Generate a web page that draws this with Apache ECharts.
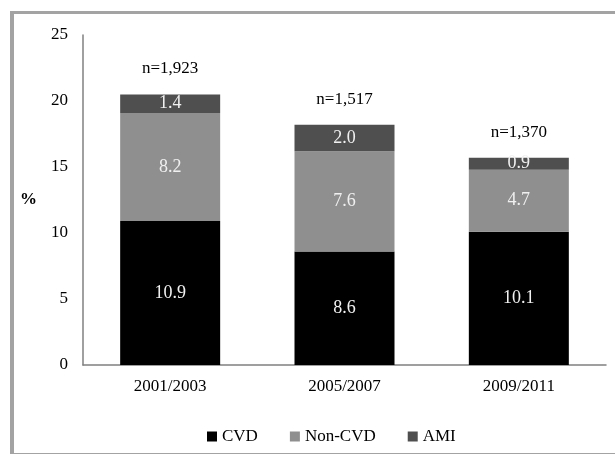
<!DOCTYPE html>
<html><head><meta charset="utf-8">
<script src="https://cdn.jsdelivr.net/npm/echarts@6/dist/echarts.min.js"></script>
<style>
html,body{margin:0;padding:0;background:#fff;}
#frame{position:absolute;left:10px;top:11px;width:620px;height:439px;border-left:4px solid #a3a3a3;border-top:3px solid #a3a3a3;border-bottom:2px solid #a3a3a3;}
#c{position:absolute;left:0;top:0;width:615px;height:454px;}
</style></head>
<body><div id="frame"></div><div id="c"></div>
<script>
const categories = ['2001/2003', '2005/2007', '2009/2011'];
const cvd = [10.9, 8.6, 10.1];
const nonCvd = [8.2, 7.6, 4.7];
const ami = [1.4, 2.0, 0.9];
const nLabels = ['n=1,923', 'n=1,517', 'n=1,370'];
const yTicks = [0, 5, 10, 15, 20, 25];

const font = 'Liberation Serif';
const chart = echarts.init(document.getElementById('c'));
const inLabel = {show: true, position: 'inside', color: '#f0f0f0', fontFamily: font, fontSize: 18,
  formatter: p => p.value.toFixed(1)};
chart.setOption({
  animation: false,
  textStyle: {fontFamily: font},
  grid: {left: 83, right: 9, top: 35, bottom: 89},
  legend: {
    data: ['CVD', 'Non-CVD', 'AMI'], top: 423, left: 202, icon: 'rect',
    itemWidth: 10, itemHeight: 10, itemGap: 32,
    textStyle: {fontFamily: font, fontSize: 17, color: '#000'}
  },
  xAxis: {type: 'category', data: categories,
    axisLine: {lineStyle: {color: '#808080', width: 1.5}}, axisTick: {show: false},
    axisLabel: {color: '#000', fontSize: 17, fontFamily: font, margin: 13}},
  yAxis: {type: 'value', min: yTicks[0], max: yTicks[yTicks.length - 1], interval: 5,
    name: '%', nameLocation: 'middle', nameRotate: 0, nameGap: 46,
    nameTextStyle: {fontFamily: font, fontSize: 17, fontWeight: 'bold', color: '#000', padding: [8, 0, 0, 0]},
    axisLine: {show: true, lineStyle: {color: '#808080', width: 1.5}}, axisTick: {show: false},
    splitLine: {show: false},
    axisLabel: {color: '#000', fontSize: 17, fontFamily: font, margin: 15}},
  series: [
    {name: 'CVD', type: 'bar', stack: 's', data: cvd, barWidth: 100, itemStyle: {color: '#000000'}, label: inLabel},
    {name: 'Non-CVD', type: 'bar', stack: 's', data: nonCvd, itemStyle: {color: '#8f8f8f'}, label: inLabel},
    {name: 'AMI', type: 'bar', stack: 's', data: ami, itemStyle: {color: '#4f4f4f'}, label: inLabel},
    {name: 'n', type: 'bar', stack: 's', data: cvd.map(() => 0), itemStyle: {color: 'transparent'},
      label: {show: true, position: 'top', distance: 17, color: '#000', fontFamily: font, fontSize: 17,
        formatter: p => nLabels[p.dataIndex]}}
  ]
});
</script></body></html>
